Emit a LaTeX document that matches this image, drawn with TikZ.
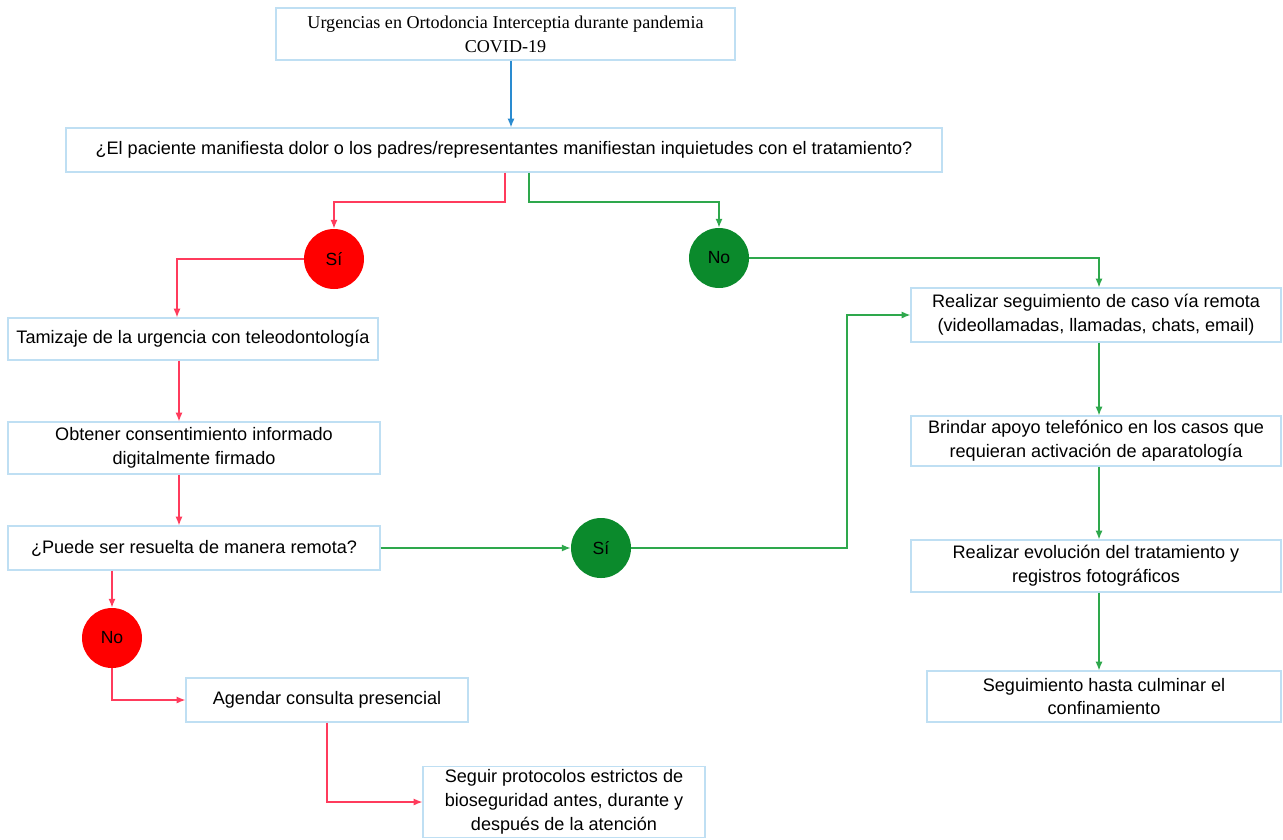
\documentclass[tikz,border=0pt]{standalone}
\usepackage{fontspec}
\setmainfont{Liberation Sans}
\newfontfamily\titlefont{Liberation Serif}
\usetikzlibrary{arrows.meta}
\definecolor{boxline}{HTML}{BFDFF3}
\definecolor{redfill}{HTML}{FF0000}
\definecolor{redline}{HTML}{FF3B5C}
\definecolor{greenfill}{HTML}{0B8A2C}
\definecolor{greenline}{HTML}{2EA84C}
\definecolor{blueline}{HTML}{2A8BD0}
\newlength{\pxlen}
\setlength{\pxlen}{0.02cm}
\tikzset{
  paso/.style={draw=boxline, line width=0.6pt, fill=white, align=center, inner sep=0pt,
    font=\fontsize{10.3}{13.6}\selectfont},
  bolared/.style={circle, fill=redfill, minimum size=60\pxlen, inner sep=0pt,
    font=\fontsize{10}{12}\selectfont},
  bolaverde/.style={circle, fill=greenfill, minimum size=60\pxlen, inner sep=0pt,
    font=\fontsize{10}{12}\selectfont},
  flechared/.style={draw=redline, line width=0.8pt, -{Latex[length=5pt,width=4pt]}},
  flechaverde/.style={draw=greenline, line width=0.8pt, -{Latex[length=5pt,width=4pt]}},
}

\begin{document}
\begin{tikzpicture}[x=0.02cm, y=-0.02cm]
		%%%%% START %%%%%
		\useasboundingbox (0, 0) rectangle (1283, 839);
		
		\node[paso, minimum width=459\pxlen, minimum height=52\pxlen,
		      font=\titlefont\fontsize{10.3}{13.6}\selectfont] (inicio) at (505.5, 34)
		      {Urgencias en Ortodoncia Interceptia durante pandemia\\COVID-19};
		\node[paso, minimum width=876\pxlen, minimum height=44\pxlen] (pregunta) at (504, 150)
		      {¿El paciente manifiesta dolor o los padres/representantes manifiestan inquietudes con el tratamiento?};
		
		\node[bolared] (si1) at (334, 259) {Sí};
		\node[bolaverde] (no1) at (719, 258) {No};
		
		\node[paso, minimum width=370\pxlen, minimum height=42\pxlen] (tamizaje) at (193, 339)
		      {Tamizaje de la urgencia con teleodontología};
		\node[paso, minimum width=372\pxlen, minimum height=52\pxlen] (consent) at (194, 448)
		      {Obtener consentimiento informado\\digitalmente firmado};
		\node[paso, minimum width=372\pxlen, minimum height=44\pxlen] (remota) at (194, 548)
		      {¿Puede ser resuelta de manera remota?};
		
		\node[bolaverde] (si2) at (601, 548) {Sí};
		\node[bolared] (no2) at (112, 638) {No};
		
		\node[paso, minimum width=282\pxlen, minimum height=44\pxlen] (agendar) at (327, 700)
		      {Agendar consulta presencial};
		\node[paso, minimum width=282\pxlen, minimum height=71\pxlen] (protocolos) at (564, 802)
		      {Seguir protocolos estrictos de\\bioseguridad antes, durante y\\después de la atención};
		
		\node[paso, minimum width=370\pxlen, minimum height=54\pxlen] (seguimiento) at (1096, 315)
		      {Realizar seguimiento de caso vía remota\\(videollamadas, llamadas, chats, email)};
		\node[paso, minimum width=370\pxlen, minimum height=50\pxlen] (apoyo) at (1096, 441)
		      {Brindar apoyo telefónico en los casos que\\requieran activación de aparatología};
		\node[paso, minimum width=370\pxlen, minimum height=52\pxlen] (evolucion) at (1096, 566)
		      {Realizar evolución del tratamiento y\\registros fotográficos};
		\node[paso, minimum width=354\pxlen, minimum height=51\pxlen] (culminar) at (1104, 696.5)
		      {Seguimiento hasta culminar el\\confinamiento};
		
		% conectores
		\draw[draw=blueline, line width=0.8pt, -{Latex[length=5pt,width=4pt]}]
		      (inicio.south -| 511, 0) -- (pregunta.north -| 511, 0);
		\draw[flechared] (pregunta.south -| 505, 0) |- (334, 202) -- (si1.north);
		\draw[flechaverde] (pregunta.south -| 529, 0) |- (719, 202) -- (no1.north);
		\draw[flechared] (si1.west) -| (tamizaje.north -| 177, 0);
		\draw[flechaverde] (no1.east) -| (seguimiento.north -| 1099, 0);
		\draw[flechared] (tamizaje.south -| 179, 0) -- (consent.north -| 179, 0);
		\draw[flechared] (consent.south -| 179, 0) -- (remota.north -| 179, 0);
		\draw[flechaverde] (remota.east) -- (si2.west);
		\draw[flechaverde] (si2.east) -- (847, 548) |- (seguimiento.west);
		\draw[flechared] (remota.south -| no2) -- (no2.north);
		\draw[flechared] (no2.south) |- (agendar.west);
		\draw[flechared] (agendar.south) |- (protocolos.west);
		\draw[flechaverde] (seguimiento.south -| 1099, 0) -- (apoyo.north -| 1099, 0);
		\draw[flechaverde] (apoyo.south -| 1099, 0) -- (evolucion.north -| 1099, 0);
		\draw[flechaverde] (evolucion.south -| 1099, 0) -- (culminar.north -| 1099, 0);
		
		%%%%% END %%%%%
	\end{tikzpicture}
\end{document}
